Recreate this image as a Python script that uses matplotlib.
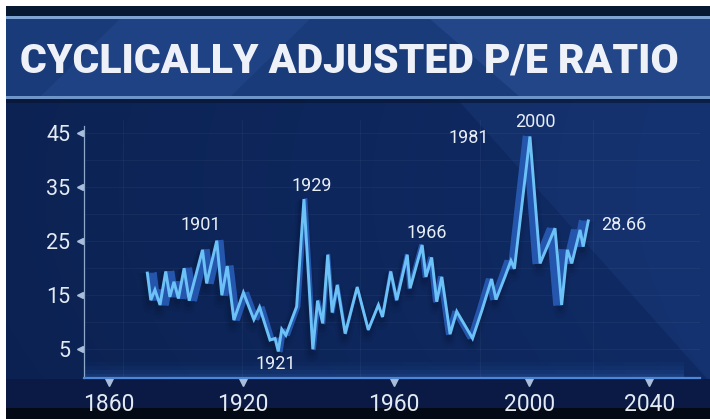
import numpy as np
import matplotlib
matplotlib.use('Agg')
import matplotlib.pyplot as plt
from matplotlib.patches import Polygon, Rectangle

# CAPE series (year, ratio)
years = [1879.6, 1880.7, 1882.0, 1883.6, 1885.4, 1886.7, 1888.0, 1889.4, 1891.2, 1892.8,
         1897.0, 1898.3, 1901.5, 1903.1, 1904.8, 1906.9, 1909.9, 1913.2, 1915.0, 1918.3,
         1919.9, 1920.9, 1922.0, 1923.3, 1926.7, 1929.0, 1931.8, 1933.3, 1934.9, 1936.5,
         1937.9, 1939.5, 1942.0, 1945.8, 1949.3, 1952.5, 1953.8, 1956.4, 1958.3, 1961.6,
         1962.5, 1966.3, 1967.5, 1969.3, 1970.9, 1972.5, 1975.1, 1977.2, 1982.2, 1985.2,
         1988.2, 1989.6, 1992.4, 1994.3, 1995.4, 2000.3, 2003.5, 2008.2, 2010.3, 2012.1,
         2013.5, 2016.1, 2017.1, 2018.7]
cape = [19.0, 14.0, 15.9, 13.1, 19.3, 14.6, 17.4, 14.3, 19.9, 13.9,
        23.3, 17.1, 25.0, 14.9, 20.3, 10.3, 15.4, 10.4, 12.7, 6.6,
        6.9, 4.5, 8.6, 7.5, 12.8, 32.7, 4.9, 13.9, 9.7, 22.4,
        11.7, 16.8, 7.8, 16.4, 8.5, 13.1, 10.9, 19.3, 14.0, 22.4,
        16.2, 24.2, 18.3, 21.9, 13.7, 18.3, 7.7, 11.9, 6.9, 12.2,
        17.9, 14.1, 18.3, 21.3, 19.8, 44.3, 20.8, 27.3, 13.1, 23.3,
        20.8, 27.0, 23.9, 28.66]

ytick_vals = [5, 15, 25, 35, 45]
# the graphic's year labels do not sit on a linear scale
xtick_pos = [1867.5, 1909.7, 1957.4, 2000.1, 2037.9]
xtick_labels = ['1860', '1920', '1960', '2000', '2040']

callouts = [('1901', 1896.5, 27.9), ('1921', 1920.2, 2.2), ('1929', 1931.5, 35.1),
            ('1966', 1967.7, 26.5), ('1981', 1980.9, 44.1), ('2000', 2001.9, 46.9)]
last_label = '28.66'

W, H = 710, 419
fig = plt.figure(figsize=(W / 100, H / 100), dpi=100)
fig.set_facecolor('#0c2457')

# ---- background in pixel coordinates ----
bg = fig.add_axes([0, 0, 1, 1], zorder=-10)
bg.set_xlim(0, W)
bg.set_ylim(H, 0)
bg.axis('off')

xx = np.linspace(0, 1, W)[None, :]
yy = np.linspace(0, 1, H)[:, None]
c0 = np.array([0x09, 0x1c, 0x47]) / 255
c1 = np.array([0x10, 0x2c, 0x66]) / 255
t = np.clip(0.4 + 0.6 * xx - 0.3 * (yy - 0.45) ** 2, 0, 1)
img = c0[None, None, :] * (1 - t[..., None]) + c1[None, None, :] * t[..., None]
bg.imshow(img, extent=[0, W, H, 0], aspect='auto', zorder=0)

# lighter diagonal facet on the right
bg.add_patch(Polygon([(458, 100), (W, 100), (W, 382)], closed=True,
                     facecolor='#3a6ac0', alpha=0.12, lw=0, zorder=1))
# glow above the x axis
for i, a in enumerate([0.04, 0.06, 0.08, 0.11]):
    bg.add_patch(Rectangle((84, 362 + i * 4), 600, 16 - i * 4, facecolor='#3d78d0',
                           alpha=a, lw=0, zorder=1))
# area below axis and bottom strip
bg.add_patch(Rectangle((0, 379), W, 30, facecolor='#0a1a44', lw=0, zorder=1))
bg.add_patch(Rectangle((0, 408), W, 11, facecolor='#040916', lw=0, zorder=1))

# title banner
bg.add_patch(Rectangle((0, 6), W, 10, facecolor='#071833', lw=0, zorder=2))
bg.add_patch(Rectangle((0, 16), W, 3, facecolor='#7fa3d2', lw=0, zorder=2))
bg.add_patch(Rectangle((0, 19), W, 78, facecolor='#1a3b7a', lw=0, zorder=2))
bg.add_patch(Polygon([(120, 19), (310, 19), (230, 97), (40, 97)], closed=True,
                     facecolor='#2a5599', alpha=0.3, lw=0, zorder=2))
bg.add_patch(Polygon([(430, 19), (W, 19), (W, 97), (520, 97)], closed=True,
                     facecolor='#3562a8', alpha=0.3, lw=0, zorder=2))
bg.add_patch(Rectangle((0, 96), W, 3, facecolor='#6f95c8', lw=0, zorder=2))
bg.add_patch(Rectangle((0, 99), W, 4, facecolor='#06142e', alpha=0.6, lw=0, zorder=2))
# white border of the screenshot
bg.add_patch(Rectangle((0, 0), W, 6, facecolor='white', lw=0, zorder=3))
bg.add_patch(Rectangle((0, 0), 6, H, facecolor='white', lw=0, zorder=3))

title = bg.text(20, 61, 'CYCLICALLY ADJUSTED P/E RATIO', fontsize=30, fontweight='black',
                family='Roboto', color='#eef2f8', ha='left', va='center', zorder=5)
fig.canvas.draw()
tw = title.get_window_extent().width
title.set_fontsize(30 * 659 / tw)

# ---- chart axes ----
px_per_year = 3.17
px_per_unit = 5.4
x0 = 2000 + (84 - 529) / px_per_year
x1 = 2000 + (700 - 529) / px_per_year
y0 = 5 + (348.7 - 378) / px_per_unit
y1 = 5 + (348.7 - 120) / px_per_unit

ax = fig.add_axes([84 / W, (H - 378) / H, 616 / W, 258 / H])
ax.set_facecolor('none')
ax.set_xlim(x0, x1)
ax.set_ylim(y0, y1)

for s in ['top', 'right']:
    ax.spines[s].set_visible(False)
ax.spines['left'].set_color('#8ea8cc')
ax.spines['left'].set_linewidth(0.9)
ax.spines['left'].set_bounds(y0, 46.2)
ax.spines['bottom'].set_color('#4d86d6')
ax.spines['bottom'].set_linewidth(1.6)

# faint grid
for v in np.arange(5, 47, 5):
    ax.axhline(v, color='white', alpha=0.04, lw=0.8, zorder=0)
for gx in [1871.9, 1909.5, 1946.7, 1984.5, 2020.3]:
    ax.axvline(gx, color='white', alpha=0.04, lw=0.8, zorder=0)

ax.set_yticks(ytick_vals)
ax.set_yticklabels([str(v) for v in ytick_vals])
ax.set_xticks(xtick_pos)
ax.set_xticklabels(xtick_labels)
ax.tick_params(length=0)
ax.tick_params(axis='y', pad=10, labelsize=15.5, labelcolor='#e3eaf3')
ax.tick_params(axis='x', pad=11, labelsize=16.5, labelcolor='#e3eaf3')
for lab in ax.get_xticklabels() + ax.get_yticklabels():
    lab.set_family('Roboto')

# triangle tick markers
ax.plot([-0.006] * len(ytick_vals), ytick_vals, ls='none', marker='<', ms=4.5,
        color='#a9bedb', transform=ax.get_yaxis_transform(), clip_on=False)
ax.plot(xtick_pos, [-0.014] * len(xtick_pos), ls='none', marker='v', ms=5.5,
        color='#a9bedb', transform=ax.get_xaxis_transform(), clip_on=False)

yrs = np.array(years)
val = np.array(cape)

# soft drop shadow
for lw, a, dy in [(10, 0.06, 1.2), (7, 0.08, 0.9), (4.5, 0.12, 0.6)]:
    ax.plot(yrs - 0.4, val - dy, color='#020a1e', lw=lw, alpha=a,
            solid_joinstyle='round', zorder=2)

# extruded ribbon toward the middle of the chart
xv, k = 1948.9, 0.962
back = xv + (yrs - xv) * k
for i in range(len(yrs) - 1):
    quad = [(yrs[i], val[i]), (yrs[i + 1], val[i + 1]),
            (back[i + 1], val[i + 1]), (back[i], val[i])]
    ax.add_patch(Polygon(quad, closed=True, facecolor='#2556ad', edgecolor='#2556ad',
                         lw=0.6, zorder=3))
ax.plot(back, val, color='#2556ad', lw=1.6, zorder=3)

ax.plot(yrs, val, color='#6cc2f7', lw=2.1, solid_joinstyle='miter', zorder=4)

for txt, cx, cy in callouts:
    ax.text(cx, cy, txt, ha='center', va='center', fontsize=13, family='Roboto',
            color='#e8eef6', zorder=6)
ax.text(2022.9, 27.9, last_label, ha='left', va='center', fontsize=13, family='Roboto',
        color='#e8eef6', zorder=6)

fig.savefig('out.png', dpi=100, facecolor=fig.get_facecolor())
